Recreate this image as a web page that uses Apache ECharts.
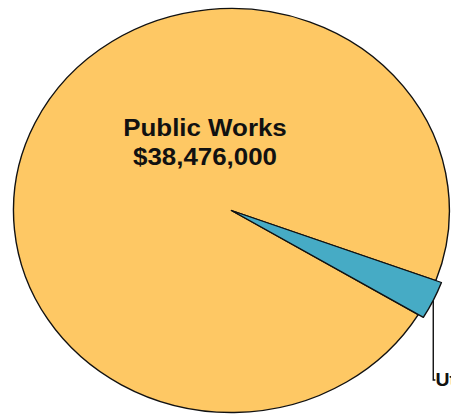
<!DOCTYPE html>
<html>
<head>
<meta charset="utf-8">
<script src="https://cdn.jsdelivr.net/npm/echarts@6/dist/echarts.min.js"></script>
<style>
html,body{margin:0;padding:0;background:#fff;overflow:hidden;width:451px;height:414px;}
#c{width:418px;height:414px;transform:scaleX(1.079);transform-origin:0 0;}
</style>
</head>
<body>
<div id="c"></div>
<script>
const categories = ['Utilities', 'Public Works'];
const values = [1180000, 38476000];
const colors = ['#46ABC5', '#FEC864'];

function money(v) {
  return '$' + v.toString().replace(/\B(?=(\d{3})+(?!\d))/g, ',');
}

const chart = echarts.init(document.getElementById('c'), null, {renderer: 'svg'});
const font = '"Liberation Sans", Arial, sans-serif';

const baseData = categories.map((name, i) => ({
  name: name,
  value: values[i],
  itemStyle: {color: colors[i]},
  label: {show: i === 1}
}));

const outerData = categories.map((name, i) => ({
  name: name,
  value: values[i],
  itemStyle: i === 0 ? {color: colors[i]} : {color: 'transparent', borderWidth: 0},
  label: {show: i === 0},
  labelLine: {show: i === 0}
}));

chart.setOption({
  animation: false,
  series: [
    {
      type: 'pie',
      center: [214.5, 210.5],
      radius: 202,
      startAngle: 339.7,
      clockwise: true,
      avoidLabelOverlap: false,
      silent: true,
      itemStyle: {borderColor: '#111', borderWidth: 1.3},
      label: {
        position: 'inside',
        formatter: p => p.name + '\n' + money(p.value),
        color: '#111',
        fontFamily: font,
        fontWeight: 'bold',
        fontSize: 24,
        lineHeight: 29
      },
      labelLine: {show: false},
      labelLayout: function (p) {
        return {x: 190, y: 142, align: 'center', verticalAlign: 'middle'};
      },
      data: baseData
    },
    {
      type: 'pie',
      center: [214.5, 210.5],
      radius: 207.5,
      startAngle: 339.7,
      clockwise: true,
      avoidLabelOverlap: false,
      silent: true,
      itemStyle: {borderColor: '#111', borderWidth: 1.3},
      label: {
        position: 'outside',
        formatter: p => p.name + ' ' + money(p.value),
        color: '#111',
        fontFamily: font,
        fontWeight: 'bold',
        fontSize: 18
      },
      labelLine: {show: true, length: 20, length2: 10, lineStyle: {color: '#111', width: 1.3}},
      labelLayout: function (p) {
        return {x: 403.5, y: 380, align: 'left', verticalAlign: 'middle'};
      },
      data: outerData
    }
  ]
});
</script>
</body>
</html>
